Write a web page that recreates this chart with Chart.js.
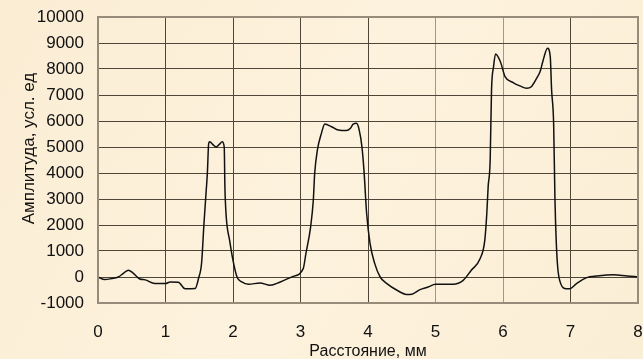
<!DOCTYPE html>
<html>
<head>
<meta charset="utf-8">
<script src="https://cdn.jsdelivr.net/npm/chart.js@4/dist/chart.umd.min.js"></script>
<style>
  html, body { margin: 0; padding: 0; background: #fcefd8; }
  #wrap { width: 643px; height: 359px; position: relative; }
</style>
</head>
<body>
<div id="wrap"><canvas id="c" width="643" height="359"></canvas></div>
<script>
// Расстояние, мм
const xs = [0.00, 0.10, 0.20, 0.30, 0.38, 0.45, 0.52, 0.62, 0.70, 0.84, 1.00, 1.07, 1.19, 1.29, 1.44,
  1.49, 1.535, 1.57, 1.60, 1.62, 1.64, 1.655, 1.71, 1.75, 1.80, 1.84, 1.87, 1.88, 1.90, 1.95,
  2.00, 2.06, 2.13, 2.23, 2.40, 2.55, 2.70, 2.89, 3.04, 3.08, 3.15, 3.19, 3.21, 3.25, 3.31,
  3.36, 3.46, 3.56, 3.68, 3.74, 3.78, 3.83, 3.87, 3.91, 3.94, 3.98, 4.03, 4.10, 4.18, 4.28,
  4.43, 4.57, 4.65, 4.77, 4.89, 5.00, 5.26, 5.41, 5.53, 5.66, 5.73, 5.76, 5.78, 5.81, 5.83,
  5.86, 5.89, 5.96, 6.03, 6.15, 6.25, 6.35, 6.42, 6.50, 6.55, 6.59, 6.66, 6.70, 6.72, 6.75,
  6.77, 6.79, 6.81, 6.84, 6.94, 6.99, 7.09, 7.24, 7.39, 7.64, 7.84, 8.00];
// Амплитуда, усл. ед
const amp = [0, -100, -60, 0, 150, 260, 150, -75, -110, -250, -250, -190, -200, -450, -440,
  -50, 550, 2060, 3210, 3980, 5140, 5200, 5075, 5000, 5110, 5200, 5000, 3470, 2310, 1410,
  640, 0, -190, -280, -230, -320, -190, 25, 320, 900, 1930, 2960, 3980, 4880, 5525,
  5880, 5780, 5650, 5630, 5720, 5880, 5910, 5650, 5010, 4110, 2440, 1290, 515, 0, -255,
  -510, -670, -660, -485, -385, -280, -280, -130, 260, 700, 1410, 2440, 3470, 4500, 7190,
  8090, 8580, 8290, 7710, 7480, 7350, 7260, 7320, 7650, 7900, 8290, 8800, 8480, 7190, 5910,
  2960, 1290, 385, -130, -450, -450, -255, -25, 40, 90, 40, 10];

const xTitle = 'Расстояние, мм';
const yTitle = 'Амплитуда, усл. ед';
const lightX = [5, 6]; // эти вертикали на оригинале светлее

const points = xs.map((x, i) => ({ x, y: amp[i] }));
const FONT = '"Liberation Sans", Arial, sans-serif';

// фон, рамка и подписи осей
const decor = {
  id: 'decor',
  beforeDraw(chart) {
    const { ctx, width, height } = chart;
    const g = ctx.createLinearGradient(0, 0, width, height);
    g.addColorStop(0, '#fbedd4');
    g.addColorStop(0.5, '#fdf2dd');
    g.addColorStop(1, '#fbeed6');
    ctx.save();
    ctx.fillStyle = g;
    ctx.fillRect(0, 0, width, height);
    ctx.restore();
  },
  afterDraw(chart) {
    const { ctx, chartArea: a } = chart;
    ctx.save();
    ctx.strokeStyle = '#978c7a';
    ctx.lineWidth = 2;
    ctx.strokeRect(a.left, a.top, a.right - a.left, a.bottom - a.top);
    ctx.fillStyle = '#111';
    ctx.textAlign = 'center';
    ctx.textBaseline = 'alphabetic';
    ctx.font = '16px ' + FONT;
    ctx.fillText(xTitle, (a.left + a.right) / 2, 356);
    ctx.font = '17px ' + FONT;
    ctx.translate(34, 148.5);
    ctx.rotate(-Math.PI / 2);
    ctx.fillText(yTitle, 0, 0);
    ctx.restore();
  }
};

new Chart(document.getElementById('c'), {
  type: 'line',
  data: {
    datasets: [{
      data: points,
      borderColor: '#111',
      borderWidth: 1.5,
      pointRadius: 0,
      fill: false,
      cubicInterpolationMode: 'monotone',
    }],
  },
  options: {
    responsive: false,
    animation: false,
    layout: { padding: { left: 0, right: 5, top: 17, bottom: 0 } },
    plugins: { legend: { display: false }, tooltip: { enabled: false } },
    scales: {
      x: {
        type: 'linear', min: 0, max: 8,
        afterFit(s) { s.height = 56; s.paddingLeft = 0; s.paddingRight = 0; },
        border: { display: false },
        grid: {
          drawTicks: false,
          color: c => lightX.includes(c.tick && c.tick.value) ? '#a39884' : '#4e4636',
          lineWidth: 1,
        },
        ticks: {
          stepSize: 1, padding: 19, color: '#111',
          callback: v => String(v),
          font: { family: FONT, size: 17 },
        },
      },
      y: {
        min: -1000, max: 10000,
        afterFit(s) { s.width = 98; s.paddingTop = 0; s.paddingBottom = 0; },
        border: { display: false },
        grid: { drawTicks: false, color: '#4e4636', lineWidth: 1 },
        ticks: {
          stepSize: 1000, padding: 14, color: '#111',
          callback: v => String(v),
          font: { family: FONT, size: 17 },
        },
      },
    },
  },
  plugins: [decor],
});
</script>
</body>
</html>
